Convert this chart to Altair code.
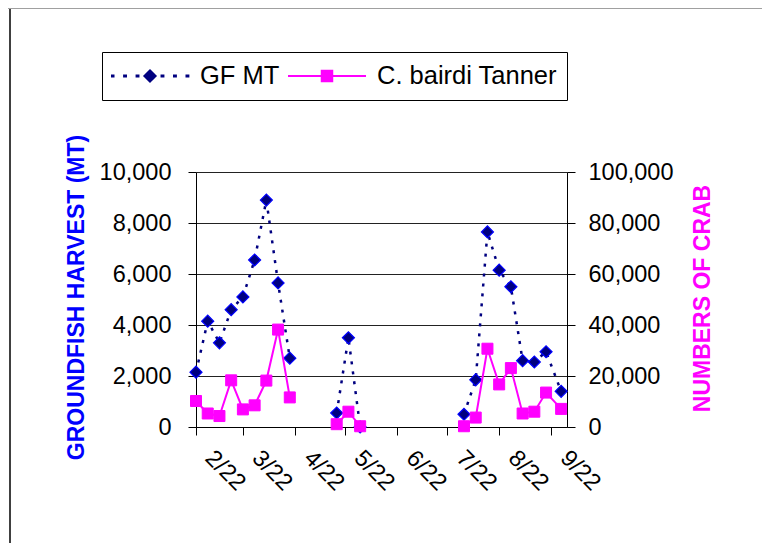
import altair as alt
import pandas as pd

# ---- data ----
dates = ["2001-02-22", "2001-03-01", "2001-03-08", "2001-03-15", "2001-03-22",
         "2001-03-29", "2001-04-05", "2001-04-12", "2001-04-19",
         "2001-05-17", "2001-05-24", "2001-05-31",
         "2001-08-01", "2001-08-08", "2001-08-15", "2001-08-22", "2001-08-29",
         "2001-09-05", "2001-09-12", "2001-09-19", "2001-09-28"]
segment = [1] * 9 + [2] * 3 + [3] * 9
gf_mt = [2150, 4150, 3300, 4600, 5100, 6550, 8900, 5650, 2700,
         550, 3500, 0,
         500, 1850, 7650, 6150, 5500, 2600, 2550, 2950, 1400]
crab = [10200, 5300, 4300, 18300, 6900, 8500, 18200, 38200, 11600,
        1100, 6000, 300,
        300, 3700, 30700, 16700, 23100, 5300, 6000, 13500, 7100]
series_names = ["GF MT", "C. bairdi Tanner"]
series_colors = ["#000080", "#FF00FF"]
tick_dates = ["2001-02-22", "2001-03-22", "2001-04-22", "2001-05-22",
              "2001-06-22", "2001-07-22", "2001-08-22", "2001-09-22"]
gf_ticks = [0, 2000, 4000, 6000, 8000, 10000]
crab_ticks = [0, 20000, 40000, 60000, 80000, 100000]

df = pd.DataFrame({
    "date": dates * 2,
    "seg": segment * 2,
    "series": [series_names[0]] * len(dates) + [series_names[1]] * len(dates),
    "value": gf_mt + crab,
})


def dt(s, hours=0):
    y, m, d = s.split("-")
    return alt.DateTime(year=int(y), month=int(m), date=int(d), hours=hours, utc=True)


FONT = "Liberation Sans"
LABEL_SIZE = 23.5
W, H = 371, 255

x_enc = alt.X(
    "date:T",
    scale=alt.Scale(type="utc", domain=[dt("2001-02-22"), dt("2001-10-01", 12)]),
    axis=alt.Axis(
        values=[dt(s) for s in tick_dates],
        labelExpr="utcFormat(datum.value, '%-m/%d')",
        labelAngle=45, labelAlign="left", labelBaseline="middle",
        labelFont=FONT, labelFontSize=LABEL_SIZE, labelColor="black",
        labelOffset=12.5, labelPadding=19, labelOverlap=False, labelFlush=False,
        labelBound=False,
        tickSize=8, tickColor="black", domainColor="black", grid=False, title=None,
    ),
)

y_left = alt.Y(
    "value:Q",
    scale=alt.Scale(domain=[0, 10000], nice=False),
    axis=alt.Axis(
        orient="left", values=gf_ticks, labelExpr="format(datum.value, ',')",
        labelFont=FONT, labelFontSize=LABEL_SIZE, labelColor="black", labelPadding=17,
        tickSize=8, tickColor="black", domainColor="black",
        grid=True, gridColor="#222222", gridWidth=1,
        title="GROUNDFISH HARVEST (MT)", titleColor="#0000FF", titleFont=FONT,
        titleFontSize=23, titleFontWeight="bold", titleAngle=270,
        titleX=-113, titleY=125, titleAlign="center", titleBaseline="alphabetic",
    ),
)

y_right = alt.Y(
    "value:Q",
    scale=alt.Scale(domain=[0, 100000], nice=False),
    axis=alt.Axis(
        orient="right", values=crab_ticks, labelExpr="format(datum.value, ',')",
        labelFont=FONT, labelFontSize=LABEL_SIZE, labelColor="black", labelPadding=13,
        tickSize=8, tickColor="black", domainColor="black", grid=False,
        title="NUMBERS OF CRAB", titleColor="#FF00FF", titleFont=FONT,
        titleFontSize=23, titleFontWeight="bold", titleAngle=270,
        titleX=142, titleY=126, titleAlign="center", titleBaseline="alphabetic",
    ),
)

# legend symbols (unit coords, scaled by sqrt(size)/2 = 39 px)
dots = "".join(f"M{cx - 0.05:.3f},-0.04h0.1v0.08h-0.1Z"
               for cx in [-0.96, -0.64, -0.32, 0.32, 0.64, 0.96])
path_gf = dots + "M0,-0.18L0.18,0L0,0.18L-0.18,0Z"
path_crab = "M-1,-0.026H1V0.026H-1ZM-0.16,-0.16H0.16V0.16H-0.16Z"

legend = alt.Legend(
    title=None, orient="none", legendX=-94, legendY=-120, direction="horizontal",
    strokeColor="black", fillColor="white", padding=9,
    symbolSize=6084, clipHeight=30, symbolStrokeWidth=0, symbolOpacity=1,
    labelFont=FONT, labelFontSize=25.5, labelColor="black", labelOffset=11,
    labelLimit=400, columnPadding=8,
)

base = alt.Chart(df)
gf = base.transform_filter(alt.datum.series == series_names[0])
cr = base.transform_filter(alt.datum.series == series_names[1])

gf_line = gf.mark_line(color="#000080", strokeWidth=2.5, strokeDash=[3, 7]).encode(
    x=x_enc, y=y_left, detail="seg:N")
gf_pts = gf.mark_point(shape="diamond", filled=True, size=144, color="#000080",
                       stroke="#0000FF", strokeWidth=1.2, opacity=1).encode(x=x_enc, y=y_left)
cr_line = cr.mark_line(color="#FF00FF", strokeWidth=2).encode(
    x=x_enc, y=y_right, detail="seg:N")
cr_pts = cr.mark_point(shape="square", filled=True, size=121, color="#FF00FF",
                       stroke="#FF00FF", strokeWidth=1, opacity=1).encode(x=x_enc, y=y_right)

# legend-only layer: draws nothing, supplies the legend entries
legend_layer = base.transform_filter("false").mark_point(filled=True, opacity=1).encode(
    x=x_enc,
    color=alt.Color("series:N", scale=alt.Scale(domain=series_names, range=series_colors),
                    legend=legend),
    shape=alt.Shape("series:N", scale=alt.Scale(domain=series_names,
                                                range=[path_gf, path_crab]),
                    legend=legend),
)

frame_data = alt.Data(values=[{"k": 1}])
frame_left = alt.Chart(frame_data).mark_rule(color="#404040", strokeWidth=2).encode(
    x=alt.value(-186), y=alt.value(-164), y2=alt.value(H + 116))
frame_top = alt.Chart(frame_data).mark_rule(color="#A0A0A0", strokeWidth=1).encode(
    x=alt.value(-188), x2=alt.value(W + 195), y=alt.value(-163.5))

chart = alt.layer(
    frame_left, frame_top,
    alt.layer(gf_line, gf_pts),
    alt.layer(cr_line, cr_pts),
    legend_layer,
).resolve_scale(y="independent").properties(
    width=W, height=H,
    autosize=alt.AutoSizeParams(type="none"),
    padding={"left": 188, "top": 164, "right": 195, "bottom": 116},
    background="white",
).configure_view(stroke=None).configure_axis(
    labelFont=FONT, labelFontSize=LABEL_SIZE
)

chart.save("out.html", embed_options={"renderer": "svg", "actions": False})
